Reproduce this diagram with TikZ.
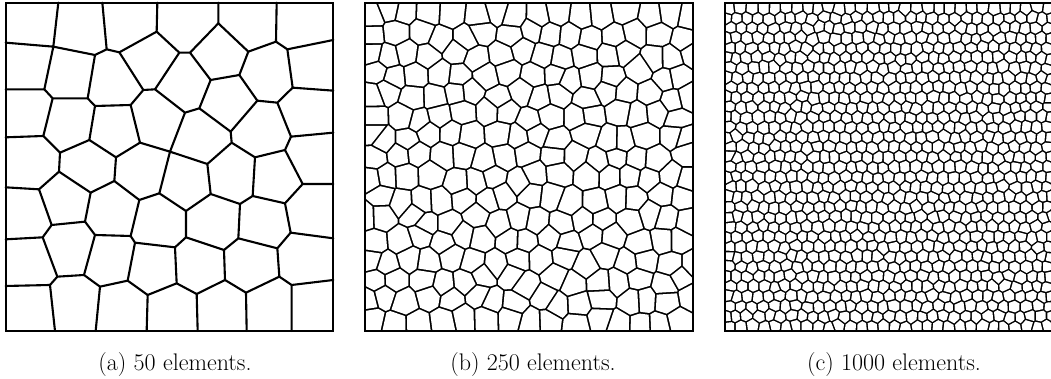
\documentclass[tikz,border=0pt]{standalone}
\usepackage{fontspec}
\tikzset{
  panel/.style={draw, line width=2pt},
  meshline/.style={line width=2.1pt, line cap=round},
  caption/.style={anchor=base, inner sep=0pt, font=\fontsize{24}{29}\selectfont}
}

% seeds of a jittered hexagonal lattice in the square (#2,#3) with side #4
% #1 prefix, #5 columns, #6 rows, #7 jitter as a fraction of a column
\newcommand\makeseeds[7]{%
  \pgfmathsetmacro\cw{#4/#5}%
  \pgfmathsetmacro\rh{#4/#6}%
  \pgfmathtruncatemacro\lastrow{#6-1}%
  \foreach \j in {0,...,\lastrow}{%
    \pgfmathtruncatemacro\odd{mod(\j,2)}%
    \pgfmathtruncatemacro\lastcol{#5-1+\odd}%
    \foreach \i in {0,...,\lastcol}{%
      \ifnum\odd=0
        \pgfmathsetmacro\sx{(\i+0.5)*\cw}%
      \else
        \pgfmathsetmacro\sx{(\i+0.25*(\i==0)-0.25*(\i==#5))*\cw}%
      \fi
      \pgfmathsetmacro\sx{#2+\sx+#7*\cw*rand}%
      \pgfmathsetmacro\sy{#3+(\j+0.5)*\rh+#7*\cw*rand}%
      \expandafter\xdef\csname #1x\i-\j\endcsname{\sx}%
      \expandafter\xdef\csname #1y\i-\j\endcsname{\sy}%
    }%
  }%
}

% white Voronoi cells, each cut back by #4 from the bisectors
% #1 prefix, #2 columns, #3 rows, #4 half line width,
% #5 / #6 neighbours (row/column steps) of seeds in even / odd rows
\newcommand\drawcells[6]{%
  \pgfmathtruncatemacro\lastrow{#3-1}%
  \foreach \j in {0,...,\lastrow}{%
    \ifodd\j \def\nbrs{#6}\else \def\nbrs{#5}\fi
    \pgfmathtruncatemacro\lastcol{#2-1+mod(\j,2)}%
    \foreach \i in {0,...,\lastcol}{%
      \edef\cx{\csname #1x\i-\j\endcsname}%
      \edef\cy{\csname #1y\i-\j\endcsname}%
      \begin{scope}
        \foreach \rowstep/\colstep in \nbrs {%
          \pgfmathtruncatemacro\ncol{\i+\colstep}%
          \pgfmathtruncatemacro\nrow{\j+\rowstep}%
          \ifcsname #1x\ncol-\nrow\endcsname
            \edef\ox{\csname #1x\ncol-\nrow\endcsname}%
            \edef\oy{\csname #1y\ncol-\nrow\endcsname}%
            \clip[shift={({(\cx+\ox)/2},{(\cy+\oy)/2})}, rotate={atan2(\cy-\oy,\cx-\ox)}]
              (#4,-400) -- (#4,400) -- (800,0) -- cycle;
          \fi
        }
        \fill[white] (\cx-40,\cy-40) rectangle (\cx+40,\cy+40);
      \end{scope}
    }%
  }%
}

\begin{document}
\begin{tikzpicture}[x=1pt, y=1pt]
  \useasboundingbox (0,0) rectangle (1051,379);

  % (a) 50 elements, traced
  \begin{scope}[shift={(0,379)}, x=0.33333pt, y=-0.33333pt]
    \draw[meshline]
      (175,8)--(160,140) (307,8)--(320,148) (472,8)--(470,95) (655,8)--(655,70) (830,8)--(828,125)
      (17,128)--(160,140) (17,268)--(133,268) (17,412)--(130,408) (17,562)--(117,568) (17,718)--(128,712) (17,858)--(150,855)
      (1000,120)--(862,148) (1000,272)--(878,263) (1000,398)--(873,410) (1000,552)--(908,552) (1000,715)--(872,698) (1000,840)--(875,855)
      (165,993)--(150,855) (287,993)--(300,860) (440,993)--(443,885) (593,993)--(590,882) (740,993)--(738,878) (875,993)--(875,855);
    \draw[meshline]
      (133,268)--(160,140)--(285,165)--(320,148)--(358,157)--(470,95)--(538,158)--(570,158)--(655,70)--(745,155)--(828,125)--(862,148)--(878,263)
      (285,165)--(263,295) (358,157)--(430,270) (538,158)--(465,268) (570,158)--(632,240) (745,155)--(718,225);
    \draw[meshline]
      (133,268)--(158,295)--(263,295)--(285,318)--(392,315)--(430,270)--(465,268)--(555,338)--(598,325)--(632,240)--(718,225)--(772,302)--(832,308)--(878,263)
      (158,295)--(130,408) (285,318)--(268,420) (392,315)--(420,428) (555,338)--(510,455) (598,325)--(692,395)--(772,302) (832,308)--(873,410);
    \draw[meshline]
      (130,408)--(180,458)--(268,420)--(348,472)--(420,428)--(510,455)--(622,492)--(695,428)--(765,472)--(855,450)--(873,410)
      (692,395)--(695,428) (180,458)--(177,515) (348,472)--(343,543) (510,455)--(478,580) (622,492)--(632,582) (765,472)--(758,588) (855,450)--(908,552);
    \draw[meshline]
      (117,568)--(177,515)--(272,578)--(343,543)--(418,600)--(478,580)--(558,633)--(632,582)--(720,612)--(758,588)--(855,610)--(908,552)
      (117,568)--(155,675) (272,578)--(255,665) (418,600)--(392,708) (558,633)--(558,712) (720,612)--(715,715) (855,610)--(872,698);
    \draw[meshline]
      (128,712)--(155,675)--(255,665)--(285,705)--(392,708)--(405,728)--(525,742)--(558,712)--(672,750)--(715,715)--(832,745)--(872,698)
      (128,712)--(172,830) (285,705)--(252,825) (405,728)--(383,842) (525,742)--(530,850) (672,750)--(675,840) (832,745)--(838,830);
    \draw[meshline]
      (150,855)--(172,830)--(252,825)--(300,860)--(383,842)--(443,885)--(530,850)--(590,882)--(675,840)--(738,878)--(838,830)--(875,855);
    \draw[panel] (17,8) rectangle (1000,993);
  \end{scope}

  % (b) 250 elements
  \pgfmathsetseed{250}
  \makeseeds{b}{365}{47.6}{328.3}{15}{16}{0.26}
  \begin{scope}
    \clip (365,47.6) rectangle ++(328.3,328.3);
    \fill (365,47.6) rectangle ++(328.3,328.3);
    \drawcells{b}{15}{16}{0.9}
      {0/-1,0/1,-1/-1,-1/0,-1/1,-1/2,1/-1,1/0,1/1,1/2,-2/0,2/0}
      {0/-1,0/1,-1/-2,-1/-1,-1/0,-1/1,1/-2,1/-1,1/0,1/1,-2/0,2/0}
  \end{scope}
  \draw[panel] (365,47.6) rectangle ++(328.3,328.3);

  % (c) 1000 elements
  \pgfmathsetseed{1000}
  \makeseeds{c}{725}{47.6}{328.3}{30}{33}{0.17}
  \begin{scope}
    \clip (725,47.6) rectangle ++(328.3,328.3);
    \fill (725,47.6) rectangle ++(328.3,328.3);
    \drawcells{c}{30}{33}{0.8}
      {0/-1,0/1,-1/0,-1/1,1/0,1/1}
      {0/-1,0/1,-1/-1,-1/0,1/-1,1/0}
  \end{scope}
  \draw[panel] (725,47.6) rectangle ++(328.3,328.3);

  \node[caption] (capa) at (175,8.3) {(a) 50 elements.};
  \node[caption] (capb) at (533,8.3) {(b) 250 elements.};
  \node[caption] (capc) at (894,8.3) {(c) 1000 elements.};
\end{tikzpicture}
\end{document}
